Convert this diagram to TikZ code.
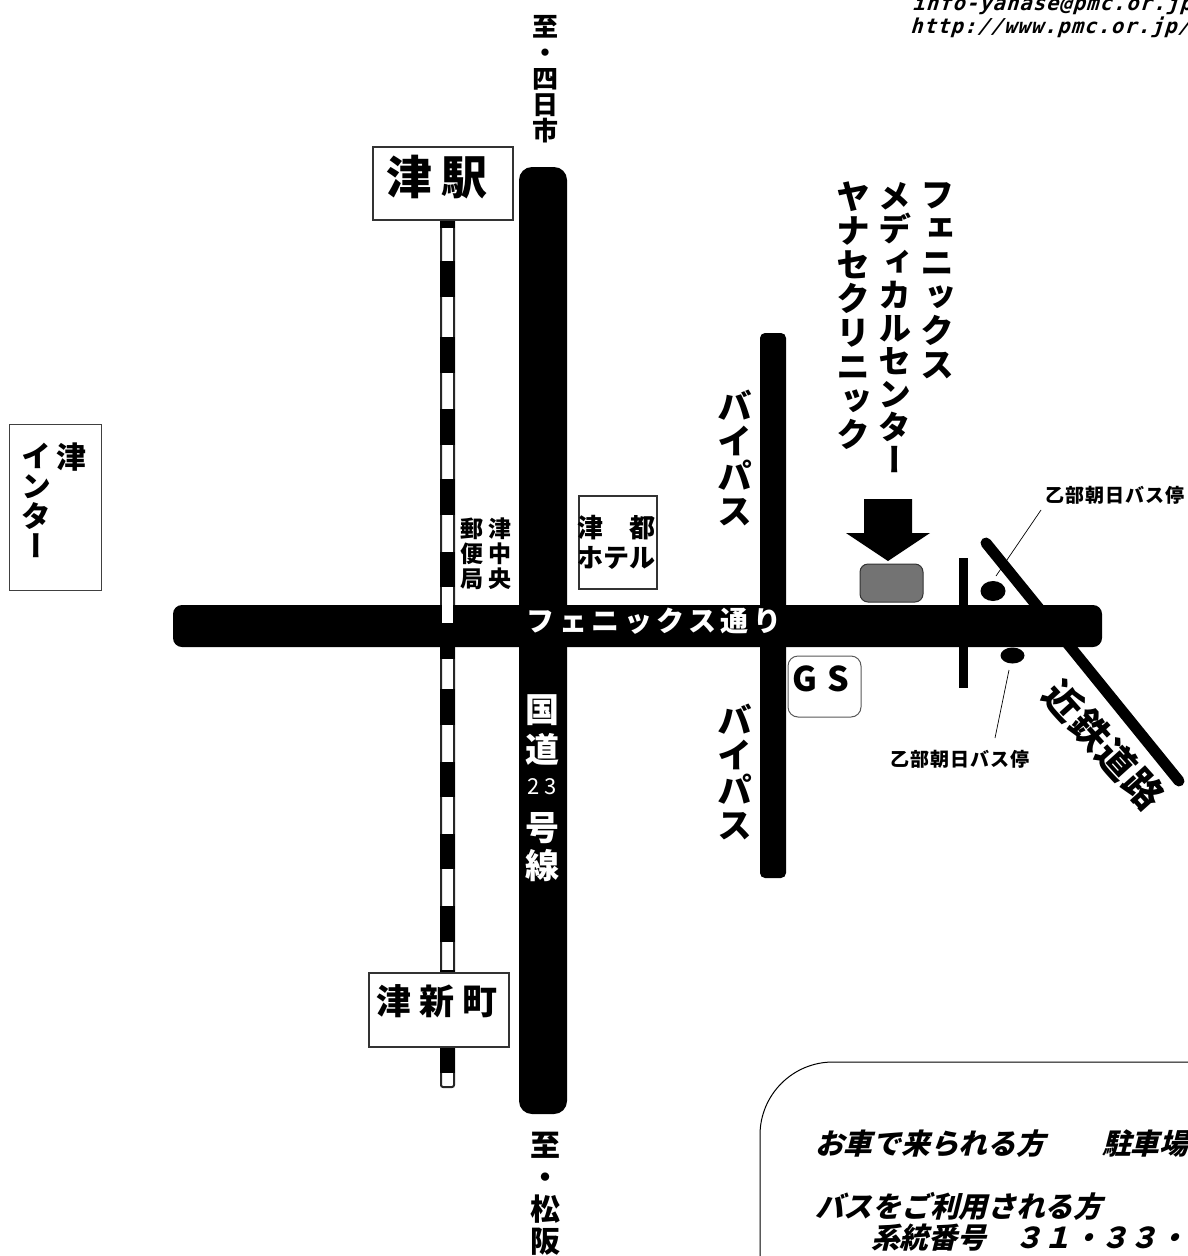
\documentclass[tikz,border=0pt]{standalone}
\usetikzlibrary{shapes.geometric}
\usepackage{fontspec}
\setmainfont{Noto Sans CJK JP}
\newfontfamily\hjp{Noto Sans CJK JP}
\newfontfamily\vjp[RawFeature={+vert}]{Noto Sans CJK JP}
\newfontfamily\ijp[FakeSlant=0.25]{Noto Sans CJK JP}
\newfontfamily\mono[FakeSlant=0.3,LetterSpace=5]{DejaVu Sans Mono}
\newcommand{\fsz}[1]{\fontsize{#1}{#1}\selectfont}
\tikzset{
  x=1pt,y=-1pt,
  road/.style={fill=black,draw=none},
  plate/.style={draw=black!80,line width=2pt,fill=white},
  vcol/.style={anchor=north,align=center,inner sep=0pt,font=\vjp\bfseries\fsz{#1}},
  hlab/.style={inner sep=0pt,font=\hjp\bfseries\fsz{#1}},
  note/.style={anchor=base west,inner sep=0pt,font=\ijp\bfseries\fsz{28.7}},
  url/.style={anchor=base west,inner sep=0pt,font=\mono\bfseries\fsz{20.5}},
  leader/.style={draw=black,line width=0.7pt},
  stopmark/.style={ellipse,fill=black,inner sep=0pt},
}
\begin{document}
\begin{tikzpicture}
\useasboundingbox (0,0) rectangle (1188,1256);
\clip (0,0) rectangle (1188,1256);
\fill[white] (0,0) rectangle (1188,1256);
% railway
\draw[black!85,line width=2pt,fill=white,rounded corners=2pt] (441,215) rectangle (454,1087);
\foreach \a/\b in {215/228,261/297,337/373,409/445,479/515,552/587,623/659,689/725,762/797,834/869,906/942,970/1073}{\fill[black] (440,\a) rectangle (455,\b);}
% kintetsu
\draw[black,line width=11pt,line cap=round] (986,543) -- (1179,781);
% roads
\fill[road,rounded corners=13pt] (519,167) rectangle (567,1114);
\fill[road,rounded corners=5pt] (760,333) rectangle (786,878);
\fill[road] (959,558) rectangle (968,688);
\fill[road,rounded corners=9pt] (173,605) rectangle (1102,647);
\fill[white] (442,587) rectangle (453,623);
% plates
\node[plate,minimum width=140pt,minimum height=73pt,inner sep=0pt] (tsu) at (442.5,183) {};
\node[hlab=46,anchor=center] (tsut) at (437,177) {津\hspace{9pt}駅};
\node[plate,minimum width=140pt,minimum height=74pt,inner sep=0pt] (shin) at (438.5,1009.5) {};
\node[hlab=35,anchor=center] (shint) at (437,1001) {津\hspace{8pt}新\hspace{8pt}町};
\draw[draw=black!75,line width=1pt,fill=white] (9,424) rectangle (101,590);
\node[vcol=30] (ic1) at (71,443) {津};
\node[vcol=30] (ic2) at (36,443) {イ\\ン\\タ\\ー};
\draw[draw=black!80,line width=2pt,fill=white] (578.5,495.5) rectangle (656.5,589);
\node[hlab=26,align=center] (hotel) at (616,542) {津\hspace{26pt}都\\[4pt]ホテル};
\node[vcol=23] (post1) at (500,518) {津\\[2pt]中\\[2pt]央};
\node[vcol=23] (post2) at (472,518) {郵\\[2pt]便\\[2pt]局};
% road labels
\node[hlab=28,text=white] (phrd) at (654,621) {\addfontfeature{LetterSpace=16}フェニックス通り};
\node[vcol=34,text=white] (r23a) at (542,694) {国\\[6pt]道};
\node[inner sep=0pt,font=\hjp\fsz{22},text=white] (r23b) at (542,787) {\addfontfeature{LetterSpace=22}23};
\node[vcol=34,text=white] (r23c) at (542,812) {号\\[4pt]線};
\node[vcol=26] (n1) at (545,15) {至\\・\\四\\日\\市};
\node[vcol=30] (n2) at (545,1132) {至\\[2pt]・\\[2pt]松\\[2pt]阪};
\node[vcol=35] (bp1) at (735,390) {バ\\イ\\パ\\ス};
\node[vcol=35] (bp2) at (735,704) {バ\\イ\\パ\\ス};
\node[vcol=34] (c1) at (937,182) {フ\\ェ\\ニ\\ッ\\ク\\ス};
\node[vcol=33] (c2) at (895,182) {メ\\デ\\ィ\\カ\\ル\\セ\\ン\\タ\\ー};
\node[vcol=34] (c3) at (853,182) {ヤ\\ナ\\セ\\ク\\リ\\ニ\\ッ\\ク};
% target
\fill[black] (864,499) -- (912,499) -- (912,533) -- (930,533) -- (888,561) -- (846,533) -- (864,533) -- cycle;
\draw[draw=black!80,fill=black!55,line width=1pt,rounded corners=8pt] (860,564) rectangle (923,602);
% GS
\draw[draw=black!65,line width=1pt,fill=white,rounded corners=10pt] (788,656) rectangle (861,717);
\node[hlab=34] (gs) at (820.5,679) {G\hspace{10pt}S};
% stops
\node[stopmark,minimum width=25pt,minimum height=20pt] (st1) at (993,591) {};
\node[stopmark,minimum width=24pt,minimum height=16pt] (st2) at (1012.5,655.5) {};
\node[hlab=19] (sl1) at (1115,495) {\addfontfeature{LetterSpace=6}乙部朝日バス停};
\node[hlab=19] (sl2) at (960,759) {\addfontfeature{LetterSpace=6}乙部朝日バス停};
\coordinate (l1a) at (1041,510); \coordinate (l1b) at (996,576);
\coordinate (l2a) at (1009,670); \coordinate (l2b) at (995,738);
\draw[leader] (l1a) -- (l1b);
\draw[leader] (l2a) -- (l2b);
\node[hlab=38,rotate=-48] (kin) at (1104,745) {\addfontfeature{LetterSpace=5}近鉄道路};
% info panel
\draw[black,line width=1pt,rounded corners=73pt] (760,1400) -- (760,1062) -- (1300,1062);
\node[note] (t1) at (815,1154) {お車で来られる方　　駐車場};
\node[note] (t2) at (815,1217) {バスをご利用される方};
\node[note] (t3) at (871,1248) {系統番号　３１・３３・};
\node[url] (u1) at (912,10) {info-yanase@pmc.or.jp};
\node[url] (u2) at (910,33) {http://www.pmc.or.jp/};
\end{tikzpicture}
\end{document}
